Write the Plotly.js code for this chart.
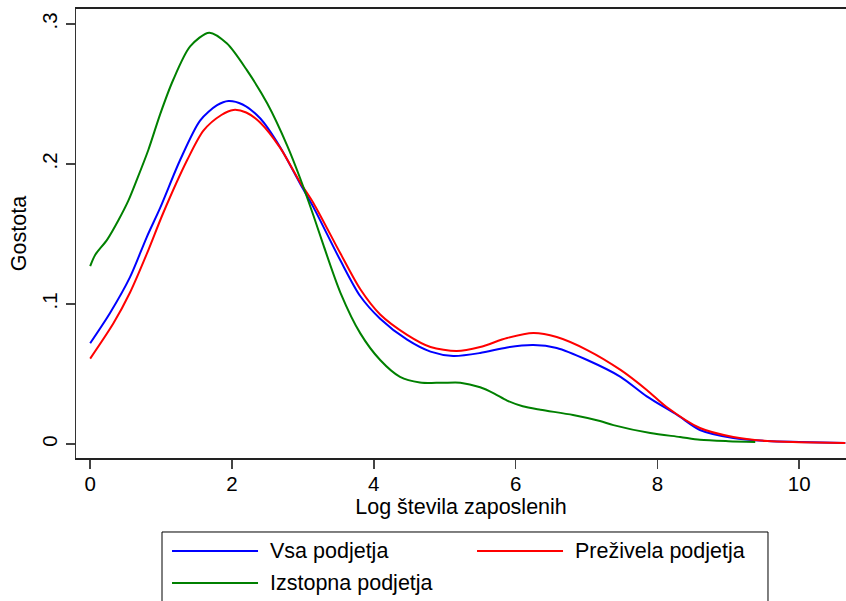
<!DOCTYPE html>
<html>
<head>
<meta charset="utf-8">
<script src="https://cdn.plot.ly/plotly-3.0.1.min.js"></script>
<style>html,body{margin:0;padding:0;background:#fff;}#chart{width:846px;height:601px;}</style>
</head>
<body>
<div id="chart"></div>
<script>
// Series names
const seriesNames = ["Vsa podjetja", "Preživela podjetja", "Izstopna podjetja"];
const seriesColors = ["#0000ff", "#ff0000", "#008000"];

// Vsa podjetja (all firms)
const vsaX = [0, 0.28, 0.56, 0.8, 0.99, 1.27, 1.55, 1.79, 1.95, 2.15, 2.4, 2.68, 2.96, 3.15, 3.53, 3.81, 4.09, 4.47, 4.8, 5.12, 5.5, 5.88, 6.25, 6.58, 7.01, 7.48, 7.85, 8.28, 8.6, 9.07, 9.55, 10.0, 10.65];
const vsaY = [0.072, 0.0936, 0.119, 0.148, 0.169, 0.203, 0.231, 0.242, 0.245, 0.2425, 0.2325, 0.212, 0.186, 0.169, 0.131, 0.1055, 0.0895, 0.0745, 0.066, 0.0629, 0.065, 0.069, 0.0707, 0.0686, 0.06, 0.048, 0.034, 0.0207, 0.01, 0.0043, 0.0021, 0.0014, 0.0007];

// Preživela podjetja (surviving firms)
const prezX = [0, 0.33, 0.56, 0.8, 1.03, 1.37, 1.6, 1.85, 2.02, 2.2, 2.4, 2.68, 2.96, 3.15, 3.53, 3.81, 4.09, 4.47, 4.8, 5.17, 5.5, 5.88, 6.25, 6.58, 7.01, 7.48, 7.85, 8.13, 8.6, 9.07, 9.55, 10.0, 10.65];
const prezY = [0.061, 0.0864, 0.108, 0.136, 0.165, 0.203, 0.224, 0.235, 0.2386, 0.2368, 0.2295, 0.2115, 0.187, 0.172, 0.136, 0.1105, 0.0925, 0.078, 0.0693, 0.0664, 0.0693, 0.0757, 0.0793, 0.0764, 0.0671, 0.0529, 0.0386, 0.0264, 0.0114, 0.005, 0.0021, 0.0013, 0.0007];

// Izstopna podjetja (exiting firms)
const izsX = [0, 0.07, 0.24, 0.4, 0.54, 0.66, 0.82, 0.99, 1.17, 1.41, 1.68, 1.93, 2.21, 2.5, 2.78, 2.96, 3.15, 3.29, 3.53, 3.81, 4.09, 4.37, 4.65, 4.95, 5.22, 5.5, 5.7, 5.88, 6.1, 6.35, 6.81, 7.19, 7.38, 7.9, 8.32, 8.6, 9.0, 9.38];
const izsY = [0.127, 0.135, 0.146, 0.16, 0.174, 0.189, 0.21, 0.236, 0.26, 0.284, 0.2938, 0.286, 0.267, 0.243, 0.213, 0.19, 0.163, 0.142, 0.108, 0.079, 0.060, 0.048, 0.044, 0.0437, 0.0438, 0.0405, 0.036, 0.031, 0.027, 0.0245, 0.0207, 0.0164, 0.0135, 0.0078, 0.005, 0.003, 0.002, 0.0015];

// Tick labels
const xTickVals = [0, 2, 4, 6, 8, 10];
const xTickText = ["0", "2", "4", "6", "8", "10"];
const yTickVals = [0, 0.1, 0.2, 0.3];
const yTickText = ["0", ".1", ".2", ".3"];

const xTitle = "Log števila zaposlenih";
const yTitle = "Gostota";

const FONT = "'Liberation Sans', Arial, sans-serif";

const mk = (x, y, name, color) => ({
  x: x, y: y, name: name, type: "scatter", mode: "lines",
  line: {color: color, width: 2, shape: "spline", smoothing: 0.8},
  hoverinfo: "skip", showlegend: false
});

const data = [
  mk(vsaX, vsaY, seriesNames[0], seriesColors[0]),
  mk(prezX, prezY, seriesNames[1], seriesColors[1]),
  mk(izsX, izsY, seriesNames[2], seriesColors[2])
];

// Manual legend (layout positions in paper coordinates)
const legendSlots = [
  {lx0: 0.1247, lx1: 0.2364, tx: 0.2494, y: -0.2071},
  {lx0: 0.5208, lx1: 0.6325, tx: 0.6455, y: -0.2071},
  {lx0: 0.1247, lx1: 0.2364, tx: 0.2494, y: -0.2784}
];
const shapes = [{
  type: "rect", xref: "paper", yref: "paper",
  x0: 0.1117, x1: 0.8987, y0: -0.1648, y1: -0.40,
  line: {color: "#000", width: 1}, fillcolor: "rgba(0,0,0,0)"
}];
const annotations = [];
seriesNames.forEach((nm, i) => {
  const s = legendSlots[i];
  shapes.push({type: "line", xref: "paper", yref: "paper",
    x0: s.lx0, x1: s.lx1, y0: s.y, y1: s.y,
    line: {color: seriesColors[i], width: 2}});
  annotations.push({xref: "paper", yref: "paper", x: s.tx, y: s.y,
    xanchor: "left", yanchor: "middle", showarrow: false, text: nm,
    font: {family: FONT, size: 21.5, color: "#000"}});
});

const layout = {
  width: 846, height: 601,
  margin: {l: 76, r: 0, t: 9, b: 143, pad: 0},
  paper_bgcolor: "#ffffff", plot_bgcolor: "#ffffff",
  font: {family: FONT, size: 20, color: "#000"},
  showlegend: false,
  xaxis: {
    range: [-0.2, 10.66], autorange: false, automargin: false,
    tickvals: xTickVals, ticktext: xTickText,
    ticks: "outside", ticklen: 9, tickwidth: 1.5, tickcolor: "#444",
    ticklabelstandoff: -3,
    showline: true, linecolor: "#222", linewidth: 2, mirror: true,
    showgrid: false, zeroline: false,
    tickfont: {family: FONT, size: 20.5, color: "#000"},
    title: {text: xTitle, font: {family: FONT, size: 21.5, color: "#000"}, standoff: 3}
  },
  yaxis: {
    range: [-0.01, 0.3107], autorange: false, automargin: false,
    tickvals: yTickVals, ticktext: yTickText,
    tickangle: -90,
    ticks: "outside", ticklen: 9, tickwidth: 1.5, tickcolor: "#444",
    showline: true, linecolor: "#333", linewidth: 1.5,
    showgrid: false, zeroline: false,
    tickfont: {family: FONT, size: 20.5, color: "#000"},
    title: {text: yTitle, font: {family: FONT, size: 21.5, color: "#000"}, standoff: 6}
  },
  shapes: shapes,
  annotations: annotations
};

Plotly.newPlot("chart", data, layout, {staticPlot: true, displayModeBar: false});
</script>
</body>
</html>
